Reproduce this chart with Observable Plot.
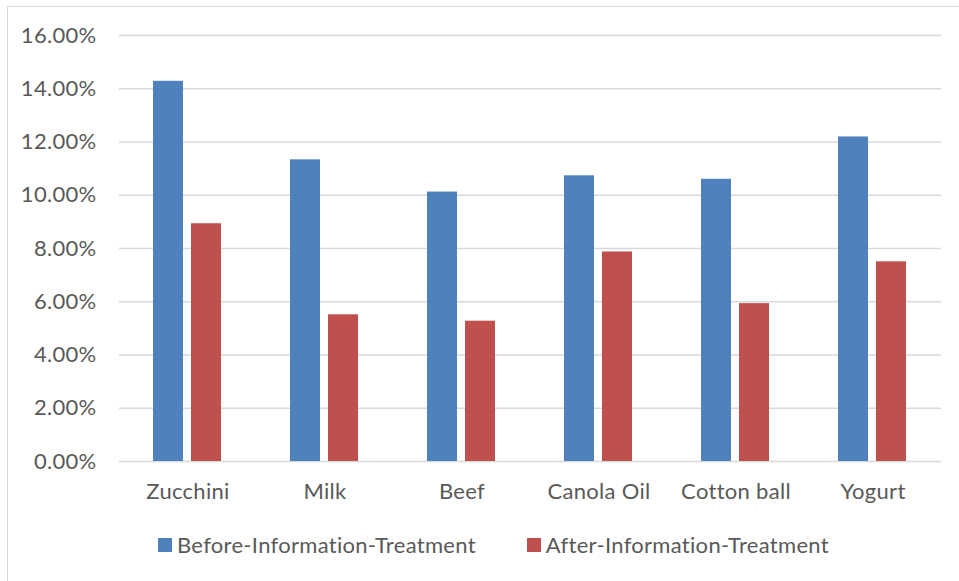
<!DOCTYPE html>
<html>
<head>
<meta charset="utf-8">
<script src="https://cdn.jsdelivr.net/npm/d3@7"></script>
<script src="https://cdn.jsdelivr.net/npm/@observablehq/plot@0.6"></script>
<style>
  html, body { margin: 0; padding: 0; background: #fff; overflow: hidden; }
  body { width: 959px; height: 581px; position: relative; font-family: Lato, "Open Sans", sans-serif; }
  #frame { position: absolute; left: 7px; top: 6px; width: 960px; height: 600px; border: 1.5px solid #d9d9d9; box-sizing: border-box; }
  #chart { position: absolute; left: 0; top: 0; }
  #chart svg text { letter-spacing: 0.3px; }
  #legend { position: absolute; left: 158px; top: 533px; display: flex; align-items: center; font-size: 22px; letter-spacing: 0.3px; color: #595959; line-height: 24px; }
  .item { display: flex; align-items: center; }
  .item + .item { margin-left: 51px; }
  .swatch { width: 14px; height: 14px; margin-right: 5px; }
</style>
</head>
<body>
<div id="frame"></div>
<div id="chart"></div>
<div id="legend"></div>
<script>
// Share of respondents per product, before and after the information treatment (%)
const categories = ["Zucchini", "Milk", "Beef", "Canola Oil", "Cotton ball", "Yogurt"];
const seriesNames = ["Before-Information-Treatment", "After-Information-Treatment"];
const beforeValues = [14.28, 11.33, 10.12, 10.73, 10.60, 12.19];
const afterValues = [8.93, 5.51, 5.27, 7.87, 5.93, 7.50];
const yTicks = [0, 2, 4, 6, 8, 10, 12, 14, 16];
const seriesColors = ["#4F81BD", "#C0504D"];

const rows = categories.flatMap((category, i) => [
  { category, series: seriesNames[0], value: beforeValues[i] },
  { category, series: seriesNames[1], value: afterValues[i] }
]);

const chart = Plot.plot({
  width: 959,
  height: 520,
  marginTop: 35,
  marginRight: 18,
  marginBottom: 59,
  marginLeft: 119,
  style: { fontFamily: "Lato, 'Open Sans', sans-serif", fontSize: "22px", color: "#595959", background: "transparent", overflow: "visible" },
  fx: { domain: categories, padding: 0, axis: "bottom", label: null, tickSize: 0, tickPadding: 22 },
  x: { domain: seriesNames, axis: null, paddingInner: 0.205, paddingOuter: 0.859 },
  y: { domain: [0, 16], ticks: yTicks, tickFormat: d => d.toFixed(2) + "%", label: null, tickSize: 0, tickPadding: 23 },
  color: { domain: seriesNames, range: seriesColors },
  marks: [
    Plot.ruleY(yTicks, { stroke: "#d9d9d9", strokeWidth: 1.5 }),
    Plot.barY(rows, { fx: "category", x: "series", y: "value", fill: "series" })
  ]
});
document.getElementById("chart").appendChild(chart);

// Legend below the plot
const legend = document.getElementById("legend");
seriesNames.forEach((name, i) => {
  const item = document.createElement("div");
  item.className = "item";
  const sw = document.createElement("div");
  sw.className = "swatch";
  sw.style.background = seriesColors[i];
  const label = document.createElement("span");
  label.textContent = name;
  item.appendChild(sw);
  item.appendChild(label);
  legend.appendChild(item);
});
</script>
</body>
</html>
